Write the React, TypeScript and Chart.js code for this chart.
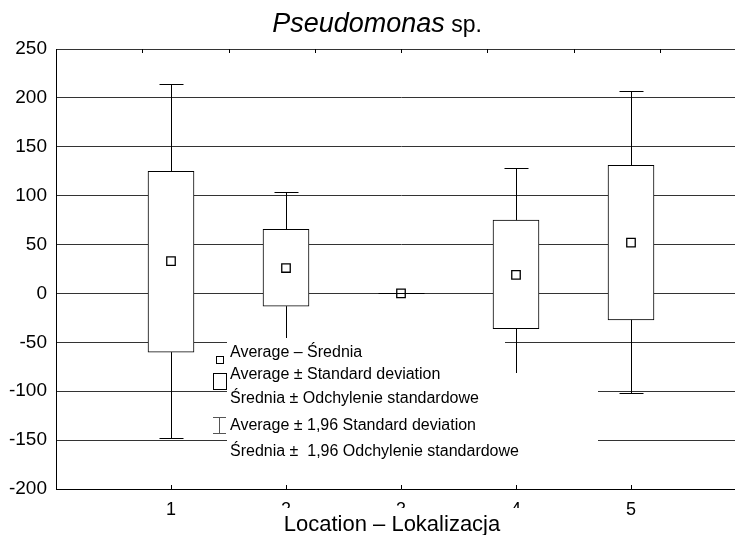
import React, { useEffect, useRef } from "react";
import { Chart, registerables } from "chart.js";

Chart.register(...registerables);

// ---- data ----
const categories = [1, 2, 3, 4, 5];
const means = [33, 26, 0, 19, 52];
const sdLow = [-60, -13, 0, -36, -27];
const sdHigh = [125, 65.5, 0, 75, 131];
const ciLow = [-148, -51, 0, -89, -102];
const ciHigh = [214, 104, 0, 128.5, 207];
const yTicks = [-200, -150, -100, -50, 0, 50, 100, 150, 200, 250];
const topTickValues = [0, 0.75, 1.5, 2.25, 3, 3.75, 4.5, 5.25];
const titleMain = "Pseudomonas";
const titleSuffix = " sp.";
const xTitle = "Location – Lokalizacja";
const legendLabels = [
  "Average – Średnia",
  "Average ± Standard deviation",
  "Średnia ± Odchylenie standardowe",
  "Average ± 1,96 Standard deviation",
  "Średnia ±  1,96 Odchylenie standardowe",
];

const FONT = "'Liberation Sans', Arial, sans-serif";

const overlayPlugin = {
  id: "overlay",
  afterDatasetsDraw(chart: any) {
    const ctx = chart.ctx;
    const xs = chart.scales.x;
    const ys = chart.scales.y;
    ctx.save();
    ctx.strokeStyle = "#000";
    ctx.lineWidth = 1;
    categories.forEach((c, i) => {
      const x = Math.round(xs.getPixelForValue(c)) + 0.5;
      const yTop = ys.getPixelForValue(sdHigh[i]);
      const yHi = Math.round(ys.getPixelForValue(ciHigh[i])) + 0.5;
      const yBot = ys.getPixelForValue(sdLow[i]);
      const yLo = Math.round(ys.getPixelForValue(ciLow[i])) + 0.5;
      ctx.beginPath();
      ctx.moveTo(x, yTop);
      ctx.lineTo(x, yHi);
      ctx.moveTo(x - 12, yHi);
      ctx.lineTo(x + 12, yHi);
      ctx.moveTo(x, yBot);
      ctx.lineTo(x, yLo);
      ctx.moveTo(x - 12, yLo);
      ctx.lineTo(x + 12, yLo);
      if (sdHigh[i] === sdLow[i]) {
        ctx.moveTo(x - 23, yHi);
        ctx.lineTo(x + 23, yHi);
      }
      ctx.stroke();
    });
    ctx.restore();
  },
  afterDraw(chart: any) {
    const ctx = chart.ctx;
    const xs = chart.scales.x;
    const area = chart.chartArea;
    ctx.save();

    // inward tick marks
    ctx.strokeStyle = "#000";
    ctx.lineWidth = 1;
    ctx.beginPath();
    categories.forEach((c) => {
      const x = Math.round(xs.getPixelForValue(c)) + 0.5;
      ctx.moveTo(x, area.bottom);
      ctx.lineTo(x, area.bottom - 4);
    });
    topTickValues.forEach((v) => {
      const x = Math.round(xs.getPixelForValue(v)) + 0.5;
      ctx.moveTo(x, area.top);
      ctx.lineTo(x, area.top + 4);
    });
    ctx.stroke();

    // title
    ctx.fillStyle = "#000";
    ctx.textBaseline = "alphabetic";
    ctx.textAlign = "left";
    ctx.font = `italic 27px ${FONT}`;
    const w1 = ctx.measureText(titleMain).width;
    ctx.font = `23px ${FONT}`;
    const w2 = ctx.measureText(titleSuffix).width;
    const tx = 377 - (w1 + w2) / 2;
    ctx.font = `italic 27px ${FONT}`;
    ctx.fillText(titleMain, tx, 32);
    ctx.font = `23px ${FONT}`;
    ctx.fillText(titleSuffix, tx + w1, 32);

    // legend background
    ctx.fillStyle = "#fff";
    ctx.fillRect(227, 338, 278, 35);
    ctx.fillRect(227, 373, 371, 97);

    // legend symbols
    ctx.strokeStyle = "#000";
    ctx.lineWidth = 1;
    ctx.strokeRect(216.5, 356.5, 7, 7);
    ctx.strokeRect(213.5, 373.5, 13, 16);
    ctx.strokeStyle = "#555";
    ctx.beginPath();
    ctx.moveTo(219.5, 417);
    ctx.lineTo(219.5, 433);
    ctx.moveTo(213, 417.5);
    ctx.lineTo(226, 417.5);
    ctx.moveTo(213, 433.5);
    ctx.lineTo(226, 433.5);
    ctx.stroke();

    // legend text
    ctx.fillStyle = "#000";
    ctx.font = `16px ${FONT}`;
    const baselines = [357, 379, 403, 430, 456];
    legendLabels.forEach((t, i) => ctx.fillText(t, 230, baselines[i]));

    // x axis title with white background
    ctx.fillStyle = "#fff";
    ctx.fillRect(278, 508, 249, 27);
    ctx.fillStyle = "#000";
    ctx.font = `22px ${FONT}`;
    ctx.textAlign = "center";
    ctx.fillText(xTitle, 392, 531);

    ctx.restore();
  },
};

export default function App() {
  const ref = useRef<HTMLCanvasElement | null>(null);
  useEffect(() => {
    if (!ref.current) return;
    const chart = new Chart(ref.current, {
      type: "bar",
      data: {
        datasets: [
          {
            type: "scatter",
            data: categories.map((c, i) => ({ x: c, y: means[i] })),
            pointStyle: "rect",
            radius: 6,
            backgroundColor: "#fff",
            borderColor: "#000",
            borderWidth: 1.3,
            order: 0,
          } as any,
          {
            type: "bar",
            data: categories.map((c, i) => ({ x: c, y: [sdLow[i], sdHigh[i]] })),
            backgroundColor: "#fff",
            borderColor: "#000",
            borderWidth: 1,
            borderSkipped: false,
            barThickness: 46,
            order: 1,
          } as any,
        ],
      },
      options: {
        animation: false,
        responsive: false,
        devicePixelRatio: 1,
        layout: { padding: { top: 49, right: 14, left: 0, bottom: 0 } },
        plugins: {
          legend: { display: false },
          tooltip: { enabled: false },
          title: { display: false },
        },
        scales: {
          x: {
            type: "linear",
            offset: false,
            min: 0,
            max: 6,
            afterFit: (s: any) => {
              s.height = 46;
            },
            afterBuildTicks: (s: any) => {
              s.ticks = [0, ...categories, 6].map((v) => ({ value: v }));
            },
            ticks: {
              padding: 10,
              color: "#000",
              font: { family: FONT, size: 18 },
              callback: (v: any) => (categories.includes(v) ? String(v) : ""),
              maxRotation: 0,
              autoSkip: false,
            },
            grid: { display: false, drawTicks: false, offset: false },
            border: { display: true, color: "#000", width: 1 },
          },
          y: {
            type: "linear",
            min: -200,
            max: 250,
            afterFit: (s: any) => {
              s.width = 56;
            },
            afterBuildTicks: (s: any) => {
              s.ticks = yTicks.map((v) => ({ value: v }));
            },
            ticks: {
              padding: 9,
              color: "#000",
              font: { family: FONT, size: 19 },
            },
            grid: { color: "#333", lineWidth: 1, drawTicks: false },
            border: { display: true, color: "#000", width: 1 },
          },
        },
      } as any,
      plugins: [overlayPlugin],
    });
    return () => chart.destroy();
  }, []);

  return (
    <div
      style={{
        position: "fixed",
        left: 0,
        top: 0,
        width: 735,
        height: 535,
        overflow: "hidden",
        background: "#fff",
      }}
    >
      <canvas ref={ref} width={760} height={535} style={{ width: 760, height: 535, display: "block" }} />
    </div>
  );
}
